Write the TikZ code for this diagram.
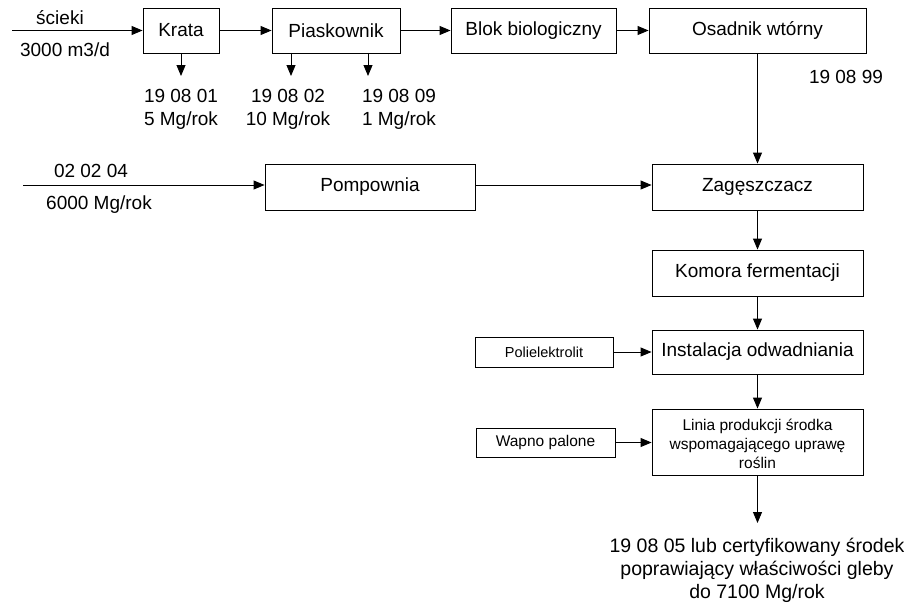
\documentclass[tikz,border=0pt]{standalone}
\usepackage{fontspec}
\setmainfont{Liberation Sans}
\usetikzlibrary{arrows.meta}
\begin{document}
\begin{tikzpicture}[x=1pt,y=-1pt,
  every node/.style={font=\fontsize{19}{23}\selectfont, inner sep=0pt},
  box/.style={draw, line width=0.9pt, inner sep=0pt},
  small/.style={font=\fontsize{15.5}{19}\selectfont},
  tiny/.style={font=\fontsize{14.5}{18}\selectfont},
  arr/.style={line width=0.9pt, -{Triangle[length=11pt,width=9pt]}},
  ln/.style={line width=0.9pt}]
\useasboundingbox (0,0) rectangle (904,602);
% top row
\node[box, minimum width=76pt, minimum height=45pt] (krata) at (181,30.5) {Krata};
\node[box, minimum width=128pt, minimum height=45pt] (piask) at (336,30.5) {Piaskownik};
\node[box, minimum width=165pt, minimum height=45pt] (blok) at (533.5,30.5) {Blok biologiczny};
\node[box, minimum width=217pt, minimum height=45pt] (osad) at (757.5,30.5) {Osadnik wtórny};
% second row
\node[box, minimum width=210pt, minimum height=46pt] (pomp) at (370,187) {\raisebox{4pt}{Pompownia}};
\node[box, minimum width=211pt, minimum height=46pt] (zag) at (757.5,187) {Zagęszczacz};
\node[box, minimum width=211pt, minimum height=46pt] (kom) at (757.5,273) {Komora fermentacji};
\node[box, minimum width=211pt, minimum height=44pt] (inst) at (757.5,352) {Instalacja odwadniania};
\node[box, tiny, minimum width=138pt, minimum height=30pt] (poli) at (544,352) {Polielektrolit};
\node[box, small, minimum width=211pt, minimum height=66pt, align=center] (linia) at (757.5,442) {\\[-4pt]Linia produkcji środka\\wspomagającego uprawę\\roślin};
\node[box, small, minimum width=139pt, minimum height=29pt] (wapno) at (545.5,442.5) {Wapno palone};
% labels
\node (lscieki) at (60,18) {ścieki};
\node (lq) at (65,50) {3000 m3/d};
\node[align=center] (l1) at (181,109.5) {19 08 01\\5 Mg/rok};
\node[align=center] (l2) at (288,109.5) {19 08 02\\10 Mg/rok};
\node[align=center] (l3) at (399,109.5) {19 08 09\\1 Mg/rok};
\node (l4) at (846,77) {19 08 99};
\node (l5) at (91,171) {02 02 04};
\node (l6) at (99,205) {6000 Mg/rok};
\node[align=center, font=\fontsize{19.5}{23}\selectfont] (lout) at (757,570) {19 08 05 lub certyfikowany środek\\poprawiający właściwości gleby\\do 7100 Mg/rok};
% coordinates
\coordinate (in1) at (12,30.5);
\coordinate (in2) at (23,185);
\coordinate (t1) at (181,76);
\coordinate (t2a) at (291,53);
\coordinate (t2) at (291,76);
\coordinate (t3a) at (368,53);
\coordinate (t3) at (368,76);
\coordinate (tout) at (757.5,523);
% connectors
\draw[arr] (in1) -- (krata.west);
\draw[arr] (krata.east) -- (piask.west);
\draw[arr] (piask.east) -- (blok.west);
\draw[arr] (blok.east) -- (osad.west);
\draw[arr] (krata.south) -- (t1);
\draw[arr] (t2a) -- (t2);
\draw[arr] (t3a) -- (t3);
\draw[arr] (osad.south) -- (zag.north);
\draw[arr] (in2) -- (in2 -| pomp.west);
\draw[arr] ([yshift=2pt]pomp.east) -- ([yshift=2pt]zag.west);
\draw[arr] (zag.south) -- (kom.north);
\draw[arr] (kom.south) -- (inst.north);
\draw[arr] (poli.east) -- (inst.west);
\draw[arr] (inst.south) -- (linia.north);
\draw[arr] (wapno.east) -- (wapno.east -| linia.west);
\draw[arr] (linia.south) -- (tout);
\end{tikzpicture}
\end{document}
